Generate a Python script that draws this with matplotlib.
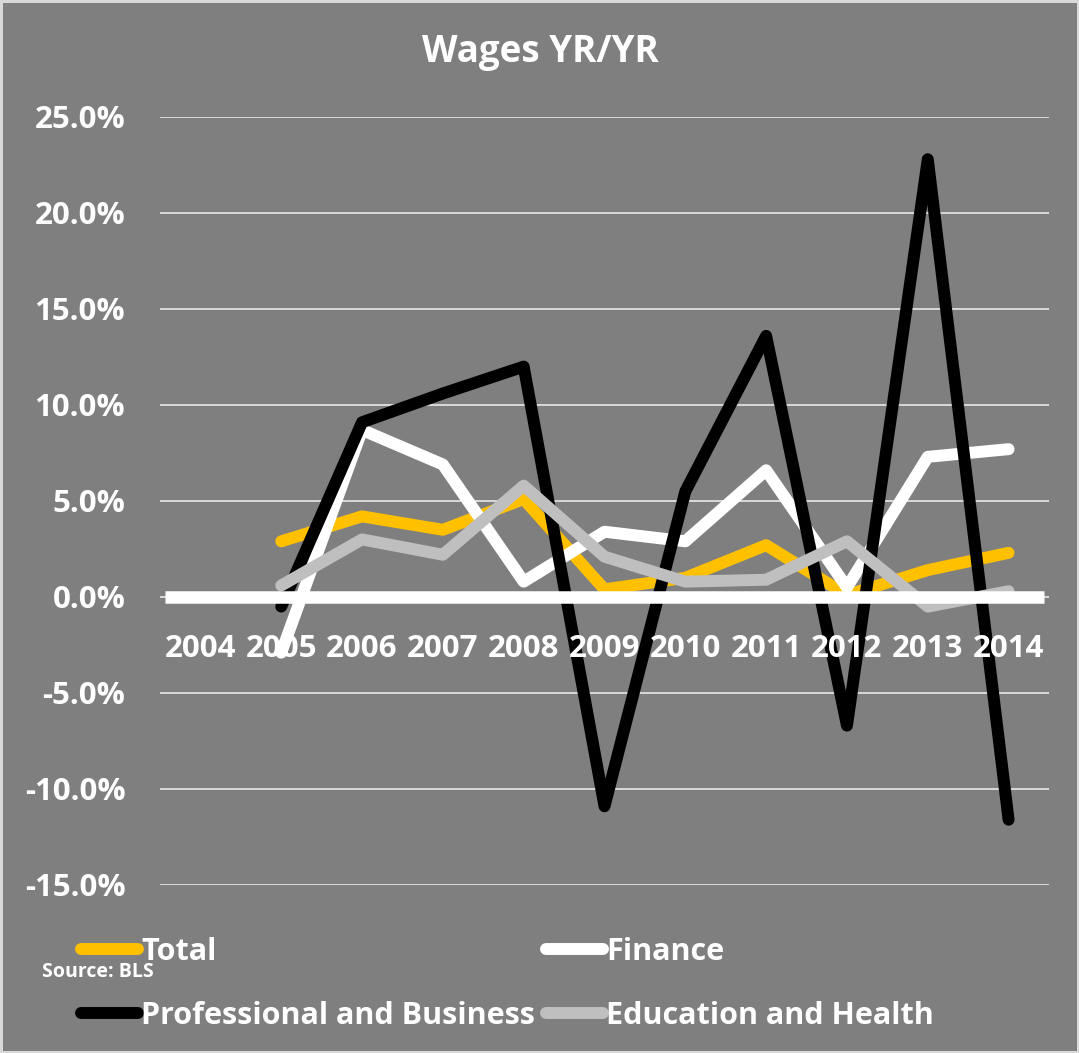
import numpy as np
import matplotlib
matplotlib.use("Agg")
import matplotlib.pyplot as plt
from matplotlib.transforms import ScaledTranslation
from matplotlib.lines import Line2D

years = ['2004', '2005', '2006', '2007', '2008', '2009', '2010', '2011', '2012', '2013', '2014']
total = [np.nan, 2.9, 4.2, 3.5, 5.1, 0.4, 1.0, 2.7, 0.1, 1.4, 2.3]
finance = [np.nan, -2.9, 8.7, 6.9, 0.8, 3.4, 2.9, 6.6, 0.5, 7.3, 7.7]
prof_business = [np.nan, -0.5, 9.1, 10.6, 12.0, -10.9, 5.5, 13.6, -6.7, 22.8, -11.6]
edu_health = [np.nan, 0.6, 3.0, 2.2, 5.8, 2.1, 0.8, 0.9, 2.9, -0.5, 0.3]
series_names = ['Total', 'Finance', 'Professional and Business', 'Education and Health']
series_colors = ['#FFC000', '#FFFFFF', '#000000', '#BFBFBF']
y_ticks = [-15, -10, -5, 0, 5, 10, 15, 20, 25]

FONT = 'Open Sans'
BG = '#7F7F7F'
FS = 22.5

W, H = 1079, 1053
fig = plt.figure(figsize=(W / 100, H / 100), dpi=100)
fig.patch.set_facecolor(BG)
fig.patch.set_edgecolor('#D9D9D9')
fig.patch.set_linewidth(2.5)

ax = fig.add_axes([160 / W, 1 - 885 / H, (1049 - 160) / W, (885 - 117) / H])
ax.set_facecolor(BG)
x = np.arange(len(years))

all_series = [total, finance, prof_business, edu_health]
for vals, name, col in zip(all_series, series_names, series_colors):
    ax.plot(x, vals, color=col, lw=8.6, solid_capstyle='round', solid_joinstyle='round',
            label=name, zorder=3)

ax.axhline(0, xmin=0.006, xmax=0.994, color='white', lw=9, zorder=4, solid_capstyle='butt')

ax.set_xlim(-0.5, len(years) - 0.5)
ax.set_ylim(min(y_ticks), max(y_ticks))
ax.set_yticks(y_ticks)
ax.set_yticklabels([f'{v:.1f}%' for v in y_ticks], fontsize=FS, fontweight='bold',
                   color='white', family=FONT)
ax.tick_params(axis='y', length=0, pad=25)
ax.set_xticks([])
ax.yaxis.grid(True, color='#D9D9D9', lw=1.4, zorder=1)
ax.set_axisbelow(True)
for s in ax.spines.values():
    s.set_visible(False)

off = ScaledTranslation(0, -0.52, fig.dpi_scale_trans)
for i, lab in enumerate(years):
    ax.text(i, 0, lab, transform=ax.transData + off, ha='center', va='center',
            fontsize=FS, fontweight='bold', color='white', family=FONT, zorder=5)

fig.text(540 / W, 1 - 52 / H, 'Wages YR/YR', ha='center', va='center', fontsize=26.5,
         fontweight='bold', color='white', family=FONT)

def make_handle(col):
    return Line2D([0], [0], color=col, lw=8.6, solid_capstyle='round')

leg_kw = dict(frameon=False, handlelength=1.85, handletextpad=0.12,
              labelspacing=1.1, borderpad=0, borderaxespad=0, labelcolor='white',
              prop={'family': FONT, 'weight': 'bold', 'size': 22})
leg1 = fig.legend([make_handle(series_colors[0]), make_handle(series_colors[2])],
                  [series_names[0], series_names[2]], loc='upper left',
                  bbox_to_anchor=(81 / W, 1 - 937 / H), **leg_kw)
leg2 = fig.legend([make_handle(series_colors[1]), make_handle(series_colors[3])],
                  [series_names[1], series_names[3]], loc='upper left',
                  bbox_to_anchor=(546 / W, 1 - 937 / H), **leg_kw)

fig.text(42 / W, 1 - 972 / H, 'Source: BLS', ha='left', va='center', fontsize=14,
         fontweight='bold', color='white', family=FONT)

fig.savefig('out.png', dpi=100, facecolor=fig.get_facecolor(), edgecolor=fig.get_edgecolor())
